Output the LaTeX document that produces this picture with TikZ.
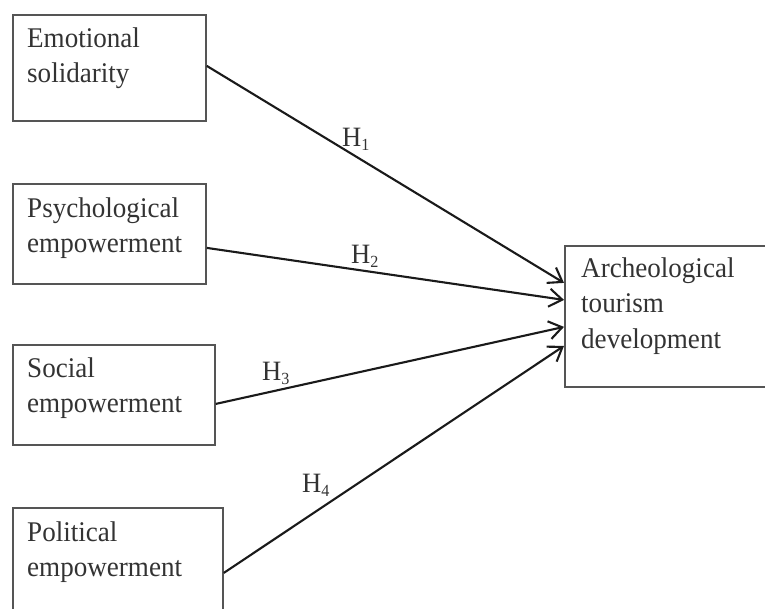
\documentclass[tikz,border=0pt]{standalone}
\usepackage{fontspec}
\setmainfont{Liberation Serif}[FakeStretch=0.95]
\usetikzlibrary{arrows.meta}
\definecolor{txtgray}{HTML}{333333}
\definecolor{linegray}{HTML}{1A1A1A}
\definecolor{boxgray}{HTML}{555555}
\begin{document}
\begin{tikzpicture}[x=1pt,y=-1pt,
  box/.style={draw=boxgray, line width=1.8pt, inner sep=0pt, anchor=north west},
  txt/.style={anchor=north west, inner sep=0pt, align=left, text=txtgray, font=\fontsize{28.5}{35.5}\selectfont},
  hyp/.style={anchor=base west, inner sep=0pt, text=txtgray, font=\fontsize{28}{30}\selectfont},
  link/.style={draw=linegray, line width=2.1pt, -{Straight Barb[length=13pt,width=18pt,line width=2.1pt]}}]
\fill[white] (0,0) rectangle (765,608);
\useasboundingbox (0,0) rectangle (765,608);
% boxes
\node[box, minimum width=193pt, minimum height=106pt] (es) at (12,14) {};
\node[box, minimum width=193pt, minimum height=100pt] (ps) at (12,183) {};
\node[box, minimum width=202pt, minimum height=100pt] (se) at (12,344) {};
\node[box, minimum width=210pt, minimum height=110pt] (pe) at (12,507) {};
\node[box, minimum width=215pt, minimum height=141pt] (atd) at (564,245) {};
% texts
\newcommand{\fl}{\rule{0pt}{22pt}}
\node[txt] (es-t) at (27,25) {\fl Emotional\\solidarity};
\node[txt] (ps-t) at (27,195) {\fl Psychological\\empowerment};
\node[txt] (se-t) at (27,355) {\fl Social\\empowerment};
\node[txt] (pe-t) at (27,519) {\fl Political\\empowerment};
\node[txt] (atd-t) at (581,255) {\fl Archeological\\tourism\\development};
% connectors
\draw[link] ([yshift=2pt]es.east) -- ([yshift=33.5pt]atd.west);
\draw[link] ([yshift=-14pt]ps.east) -- ([yshift=16.5pt]atd.west);
\draw[link] ([yshift=-9pt]se.east) -- ([yshift=-10.5pt]atd.west);
\draw[link] ([yshift=-10pt]pe.east) -- ([yshift=-29.5pt]atd.west);
% hypothesis labels
\newcommand{\hsub}[1]{\raisebox{-4pt}{\fontsize{17}{17}\selectfont #1}}
\node[hyp] (h1) at (342,146) {H\hsub{1}};
\node[hyp] (h2) at (351,263) {H\hsub{2}};
\node[hyp] (h3) at (262,380) {H\hsub{3}};
\node[hyp] (h4) at (302,492) {H\hsub{4}};
\end{tikzpicture}
\end{document}
